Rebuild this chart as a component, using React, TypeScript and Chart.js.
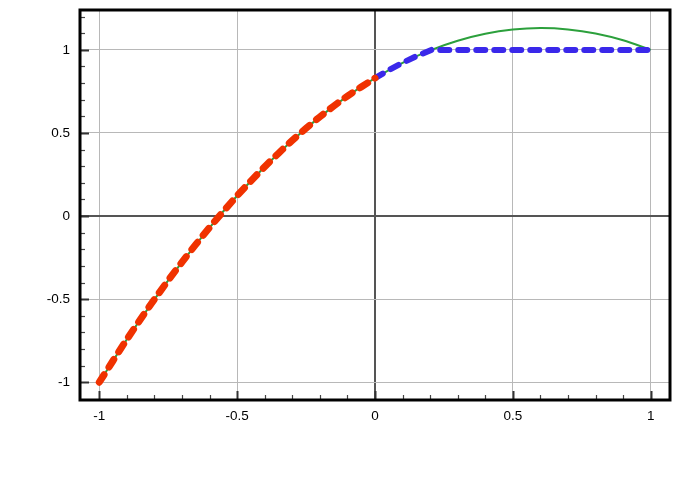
import React, { useEffect, useRef } from "react";
import { Chart, registerables } from "chart.js";

Chart.register(...registerables);

// Green curve (full function), sampled every 0.1
const greenX = [-1, -0.9, -0.8, -0.7, -0.6, -0.5, -0.4, -0.3, -0.2, -0.1, 0, 0.1, 0.2, 0.3, 0.4, 0.5, 0.6, 0.7, 0.8, 0.9, 1];
const greenY = [-1, -0.742, -0.501, -0.277, -0.069, 0.122, 0.297, 0.455, 0.597, 0.722, 0.83, 0.922, 0.997, 1.055, 1.097, 1.122, 1.131, 1.123, 1.099, 1.058, 1];

// Red dashed part (x from -1 to 0)
const redX = [-1, -0.9, -0.8, -0.7, -0.6, -0.5, -0.4, -0.3, -0.2, -0.1, 0];
const redY = [-1, -0.742, -0.501, -0.277, -0.069, 0.122, 0.297, 0.455, 0.597, 0.722, 0.83];

// Blue dashed part (x from 0 to 1, capped at 1)
const blueX = [0, 0.05, 0.1, 0.15, 0.205, 0.3, 0.4, 0.5, 0.6, 0.7, 0.8, 0.9, 1];
const blueY = [0.83, 0.878, 0.922, 0.962, 1, 1, 1, 1, 1, 1, 1, 1, 1];

const xTickLabels = ["-1", "-0.5", "0", "0.5", "1"];
const yTickLabels = ["-1", "-0.5", "0", "0.5", "1"];

const isMajor = (v: number) => Math.abs(v * 2 - Math.round(v * 2)) < 1e-6;
const fmt = (v: number) => {
  const r = Math.round(v * 2) / 2;
  return String(r);
};

const framePlugin = {
  id: "frame",
  afterDatasetsDraw(chart: any) {
    const { ctx, chartArea, scales } = chart;
    const { left, top, right, bottom } = chartArea;
    ctx.save();
    // minor / major ticks on bottom axis (inward)
    for (let i = -10; i <= 10; i++) {
      const v = i / 10;
      const px = Math.round(scales.x.getPixelForValue(v)) + 0.5;
      const major = i % 5 === 0;
      ctx.strokeStyle = major ? "#333" : "#444";
      ctx.lineWidth = major ? 2 : 1.2;
      ctx.beginPath();
      ctx.moveTo(px, bottom);
      ctx.lineTo(px, bottom - (major ? 9 : 5));
      ctx.stroke();
    }
    // ticks on left axis (inward)
    for (let i = -11; i <= 12; i++) {
      const v = i / 10;
      const py = Math.round(scales.y.getPixelForValue(v)) + 0.5;
      if (py < top + 2 || py > bottom - 2) continue;
      const major = i % 5 === 0;
      ctx.strokeStyle = major ? "#333" : "#444";
      ctx.lineWidth = major ? 2 : 1.2;
      ctx.beginPath();
      ctx.moveTo(left, py);
      ctx.lineTo(left + (major ? 9 : 5), py);
      ctx.stroke();
    }
    // frame
    ctx.strokeStyle = "#000";
    ctx.lineWidth = 3;
    ctx.strokeRect(left, top, right - left, bottom - top);
    ctx.restore();
  },
};

export default function App() {
  const ref = useRef<HTMLCanvasElement | null>(null);
  useEffect(() => {
    if (!ref.current) return;
    const toPts = (xs: number[], ys: number[]) => xs.map((x, i) => ({ x, y: ys[i] }));
    const font = { family: "'Liberation Sans', Arial, sans-serif", size: 13.5 };
    const gridColor = (c: any) =>
      c.tick && isMajor(c.tick.value)
        ? Math.abs(c.tick.value) < 1e-6
          ? "#555"
          : "#b8b8b8"
        : "rgba(0,0,0,0)";
    const gridWidth = (c: any) => (c.tick && Math.abs(c.tick.value) < 1e-6 ? 2 : 1);
    const chart = new Chart(ref.current, {
      type: "line",
      data: {
        datasets: [
          {
            data: toPts(redX, redY),
            borderColor: "#f03200",
            borderWidth: 7,
            borderDash: [9, 9],
            borderCapStyle: "round",
            pointRadius: 0,
            tension: 0.3,
            fill: false,
            order: 1,
          },
          {
            data: toPts(blueX, blueY),
            borderColor: "#3a28ea",
            borderWidth: 6,
            borderDash: [9, 9],
            borderCapStyle: "round",
            pointRadius: 0,
            tension: 0,
            fill: false,
            order: 2,
          },
          {
            data: toPts(greenX, greenY),
            borderColor: "#2ca03c",
            borderWidth: 2,
            pointRadius: 0,
            tension: 0.3,
            fill: false,
            order: 3,
          },
        ],
      },
      options: {
        animation: false,
        responsive: false,
        maintainAspectRatio: false,
        layout: { padding: { top: 10, right: 10, left: 0, bottom: 0 } },
        plugins: { legend: { display: false }, tooltip: { enabled: false } },
        events: [],
        scales: {
          x: {
            type: "linear",
            min: -1.07,
            max: 1.07,
            afterFit: (s: any) => {
              s.height = 80;
              s.paddingLeft = 0;
              s.paddingRight = 0;
            },
            border: { display: false },
            grid: { drawTicks: false, color: gridColor, lineWidth: gridWidth },
            ticks: {
              stepSize: 0.1,
              includeBounds: false,
              autoSkip: false,
              maxRotation: 0,
              padding: 8,
              color: "#000",
              font,
              callback: (v: any) => (isMajor(Number(v)) && xTickLabels.includes(fmt(Number(v))) ? fmt(Number(v)) : ""),
            },
          },
          y: {
            type: "linear",
            min: -1.107,
            max: 1.24,
            afterFit: (s: any) => {
              s.width = 80;
              s.paddingTop = 0;
              s.paddingBottom = 0;
            },
            border: { display: false },
            grid: { drawTicks: false, color: gridColor, lineWidth: gridWidth },
            ticks: {
              stepSize: 0.1,
              includeBounds: false,
              autoSkip: false,
              padding: 10,
              color: "#000",
              font,
              callback: (v: any) => (isMajor(Number(v)) && yTickLabels.includes(fmt(Number(v))) ? fmt(Number(v)) : ""),
            },
          },
        },
      },
      plugins: [framePlugin],
    } as any);
    return () => chart.destroy();
  }, []);
  return (
    <div style={{ position: "fixed", left: 0, top: 0, width: 680, height: 480, background: "#fff" }}>
      <canvas ref={ref} width={680} height={480} style={{ display: "block", width: 680, height: 480 }} />
    </div>
  );
}
